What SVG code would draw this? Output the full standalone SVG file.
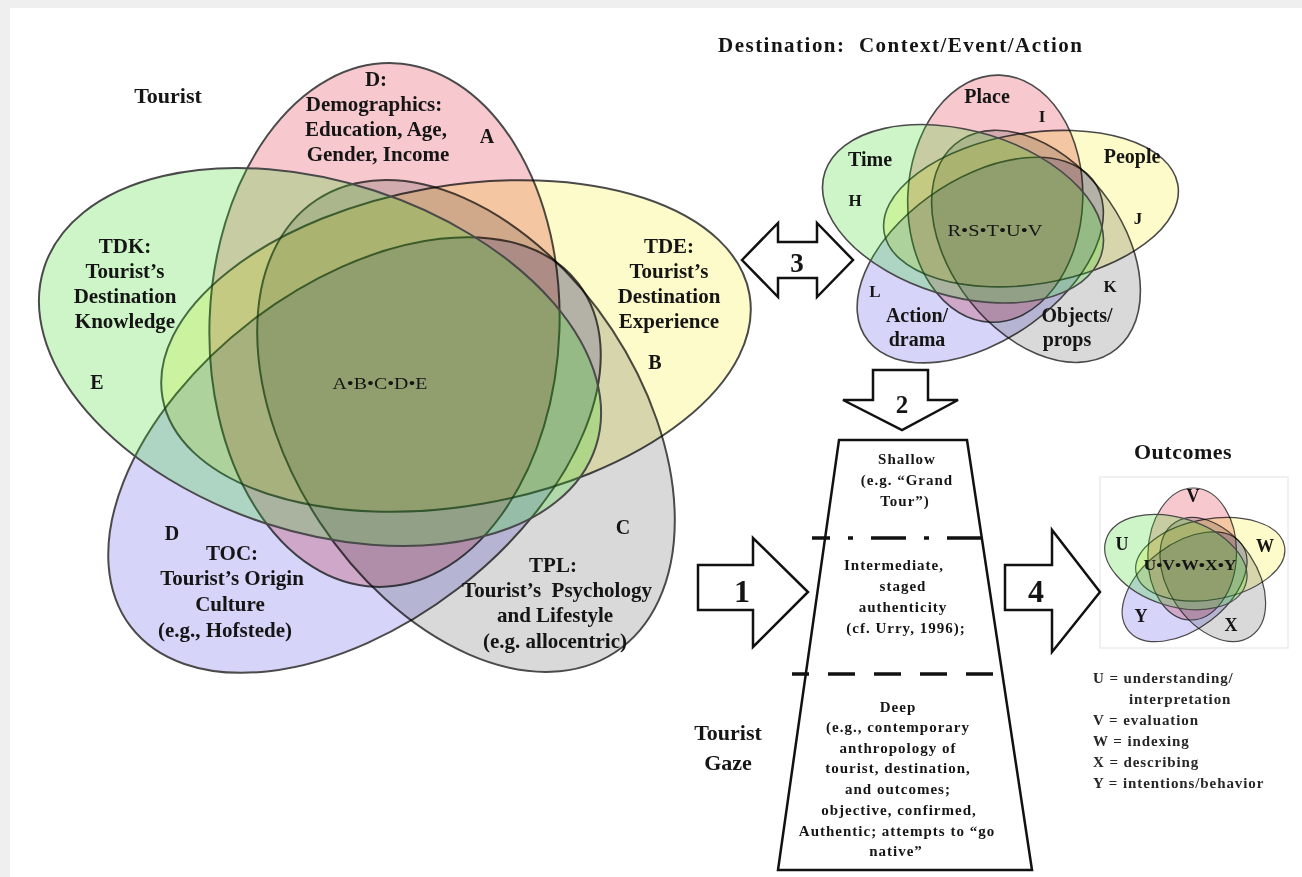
<svg xmlns="http://www.w3.org/2000/svg" xmlns:xlink="http://www.w3.org/1999/xlink" width="1302" height="877" viewBox="0 0 1302 877">
<style>
 text { font-family: "Liberation Serif", "Times New Roman", serif; fill: #151515; }
 .lab { font-size: 21px; font-weight: bold; text-anchor: middle; }
 .let { font-size: 20px; font-weight: bold; text-anchor: middle; }
 .slab { font-size: 20px; font-weight: bold; text-anchor: middle; }
 .slet { font-size: 17px; font-weight: bold; text-anchor: middle; }
 .olet { font-size: 18px; font-weight: bold; text-anchor: middle; }
 .fun { font-size: 15px; font-weight: bold; text-anchor: middle; letter-spacing: 1px; }
 .leg { font-size: 15px; font-weight: bold; letter-spacing: 0.9px; fill: #262626; }
 .num { font-weight: bold; text-anchor: middle; }
 .mid { font-size: 17px; text-anchor: middle; }
 .head { font-size: 22px; font-weight: bold; text-anchor: middle; }
 .ell { stroke: #4a4a4a; }
 .mul { mix-blend-mode: multiply; }
 .arrow { fill: #ffffff; stroke: #111111; stroke-width: 2.5; stroke-linejoin: miter; }
</style>
<defs>
 <g id="five-sets">
  <ellipse class="ell mul" fill="#f7c9ce" cx="384.5" cy="325" rx="175" ry="262" transform="rotate(2 384.5 325)" vector-effect="non-scaling-stroke"/>
  <ellipse class="ell mul" fill="#fdfbc9" cx="456" cy="346" rx="298" ry="160" transform="rotate(-10 456 346)" vector-effect="non-scaling-stroke"/>
  <ellipse class="ell mul" fill="#d9d9d9" cx="466" cy="426" rx="175" ry="271" transform="rotate(-33.4 466 426)" vector-effect="non-scaling-stroke"/>
  <ellipse class="ell mul" fill="#d6d4f8" cx="354.5" cy="455" rx="282" ry="169" transform="rotate(-37.5 354.5 455)" vector-effect="non-scaling-stroke"/>
  <ellipse class="ell" fill="rgb(55,215,35)" fill-opacity="0.25" cx="320" cy="357" rx="290" ry="175" transform="rotate(18 320 357)" vector-effect="non-scaling-stroke"/>
 </g>
</defs>

<rect x="0" y="0" width="1302" height="877" fill="#efefef"/>
<rect x="10" y="8" width="1292" height="869" fill="#ffffff"/>

<!-- Tourist Venn -->
<g id="tourist-venn">
 <use xlink:href="#five-sets" href="#five-sets" stroke-width="2"/>
 <text class="head" x="168" y="103">Tourist</text>
 <text class="mid" x="380" y="389" textLength="95" lengthAdjust="spacingAndGlyphs">A•B•C•D•E</text>
</g>
<g id="node-demographics">
 <text class="lab" x="376" y="86">D:</text>
 <text class="lab" x="374" y="111">Demographics:</text>
 <text class="lab" x="376" y="136">Education, Age,</text>
 <text class="lab" x="378" y="161">Gender, Income</text>
 <text class="let" x="487" y="143">A</text>
</g>
<g id="node-tdk">
 <text class="lab" x="125" y="253">TDK:</text>
 <text class="lab" x="125" y="278">Tourist’s</text>
 <text class="lab" x="125" y="303">Destination</text>
 <text class="lab" x="125" y="328">Knowledge</text>
 <text class="let" x="97" y="389">E</text>
</g>
<g id="node-tde">
 <text class="lab" x="669" y="253">TDE:</text>
 <text class="lab" x="669" y="278">Tourist’s</text>
 <text class="lab" x="669" y="303">Destination</text>
 <text class="lab" x="669" y="328">Experience</text>
 <text class="let" x="655" y="369">B</text>
</g>
<g id="node-toc">
 <text class="let" x="172" y="540">D</text>
 <text class="lab" x="232" y="560">TOC:</text>
 <text class="lab" x="232" y="585">Tourist’s Origin</text>
 <text class="lab" x="230" y="611">Culture</text>
 <text class="lab" x="225" y="637">(e.g., Hofstede)</text>
</g>
<g id="node-tpl">
 <text class="let" x="623" y="534">C</text>
 <text class="lab" x="553" y="572">TPL:</text>
 <text class="lab" x="557" y="597">Tourist’s&#160; Psychology</text>
 <text class="lab" x="555" y="622">and Lifestyle</text>
 <text class="lab" x="555" y="648">(e.g. allocentric)</text>
</g>

<!-- Destination Venn -->
<g id="destination-venn">
 <text x="718" y="52" font-size="21" font-weight="bold" textLength="364" lengthAdjust="spacing">Destination:&#160; Context/Event/Action</text>
 <use xlink:href="#five-sets" href="#five-sets" stroke-width="1.6" transform="translate(803 45.3) scale(0.5 0.472)"/>
 <text class="mid" x="995" y="236" textLength="95" lengthAdjust="spacingAndGlyphs">R•S•T•U•V</text>
 <g id="node-place"><text class="slab" x="987" y="103">Place</text><text class="slet" x="1042" y="122">I</text></g>
 <g id="node-time"><text class="slab" x="870" y="166">Time</text><text class="slet" x="855" y="206">H</text></g>
 <g id="node-people"><text class="slab" x="1132" y="163">People</text><text class="slet" x="1138" y="224">J</text></g>
 <g id="node-action"><text class="slet" x="875" y="297">L</text><text class="slab" x="917" y="322">Action/</text><text class="slab" x="917" y="346">drama</text></g>
 <g id="node-objects"><text class="slet" x="1110" y="292">K</text><text class="slab" x="1077" y="322">Objects/</text><text class="slab" x="1067" y="346">props</text></g>
</g>

<!-- Tourist gaze funnel -->
<g id="tourist-gaze">
 <polygon points="839,440 967,440 1032,870 778,870" fill="#ffffff" stroke="#111111" stroke-width="2.5"/>
 <line x1="812" y1="538" x2="988" y2="538" stroke="#111111" stroke-width="3.5" stroke-dasharray="35 18 5 18" stroke-dashoffset="17"/>
 <line x1="792" y1="674" x2="1012" y2="674" stroke="#111111" stroke-width="3.5" stroke-dasharray="27 19" stroke-dashoffset="10"/>
 <g id="node-shallow">
  <text class="fun" x="907" y="464">Shallow</text>
  <text class="fun" x="907" y="485">(e.g. “Grand</text>
  <text class="fun" x="905" y="506">Tour”)</text>
 </g>
 <g id="node-intermediate">
  <text class="fun" x="894" y="570">Intermediate,</text>
  <text class="fun" x="903" y="591">staged</text>
  <text class="fun" x="903" y="612">authenticity</text>
  <text class="fun" x="906" y="633">(cf. Urry, 1996);</text>
 </g>
 <g id="node-deep">
  <text class="fun" x="898" y="712">Deep</text>
  <text class="fun" x="898" y="732">(e.g., contemporary</text>
  <text class="fun" x="898" y="753">anthropology of</text>
  <text class="fun" x="898" y="773">tourist, destination,</text>
  <text class="fun" x="898" y="794">and outcomes;</text>
  <text class="fun" x="899" y="815">objective, confirmed,</text>
  <text class="fun" x="897" y="836">Authentic; attempts to “go</text>
  <text class="fun" x="896" y="856">native”</text>
 </g>
 <text class="head" x="728" y="740">Tourist</text>
 <text class="head" x="728" y="770">Gaze</text>
</g>

<!-- Outcomes -->
<g id="outcomes">
 <text class="head" x="1183" y="459" letter-spacing="0.5">Outcomes</text>
 <rect x="1100" y="477" width="188" height="171" fill="none" stroke="#ececec" stroke-width="1.5"/>
 <use xlink:href="#five-sets" href="#five-sets" stroke-width="1.2" transform="translate(1094.9 472.1) scale(0.253 0.252)"/>
 <text x="1190" y="570" font-size="14" font-weight="bold" text-anchor="middle" textLength="93" lengthAdjust="spacingAndGlyphs">U•V•W•X•Y</text>
 <text class="olet" x="1193" y="502">V</text>
 <text class="olet" x="1122" y="550">U</text>
 <text class="olet" x="1265" y="552">W</text>
 <text class="olet" x="1141" y="622">Y</text>
 <text class="olet" x="1231" y="631">X</text>
</g>
<g id="legend">
 <text class="leg" x="1093" y="683">U = understanding/</text>
 <text class="leg" x="1129" y="704">interpretation</text>
 <text class="leg" x="1093" y="725">V = evaluation</text>
 <text class="leg" x="1093" y="746">W = indexing</text>
 <text class="leg" x="1093" y="767">X = describing</text>
 <text class="leg" x="1093" y="788">Y = intentions/behavior</text>
</g>

<!-- Connectors -->
<g id="connectors">
 <g id="arrow-1">
  <polygon class="arrow" points="698,565 753,565 753,538 808,592 753,647 753,610 698,610"/>
  <text class="num" x="742" y="602" font-size="32">1</text>
 </g>
 <g id="arrow-2">
  <polygon class="arrow" points="873,370 928,370 928,400 958,400 902,430 843,400 873,400"/>
  <text class="num" x="902" y="413" font-size="25">2</text>
 </g>
 <g id="arrow-3">
  <polygon class="arrow" points="742,260 778,223 778,242 817,242 817,223 853,260 817,297 817,278 778,278 778,297"/>
  <text class="num" x="797" y="272" font-size="27">3</text>
 </g>
 <g id="arrow-4">
  <polygon class="arrow" points="1005,565 1052,565 1052,530 1100,592 1052,652 1052,610 1005,610"/>
  <text class="num" x="1036" y="602" font-size="32">4</text>
 </g>
</g>
</svg>
